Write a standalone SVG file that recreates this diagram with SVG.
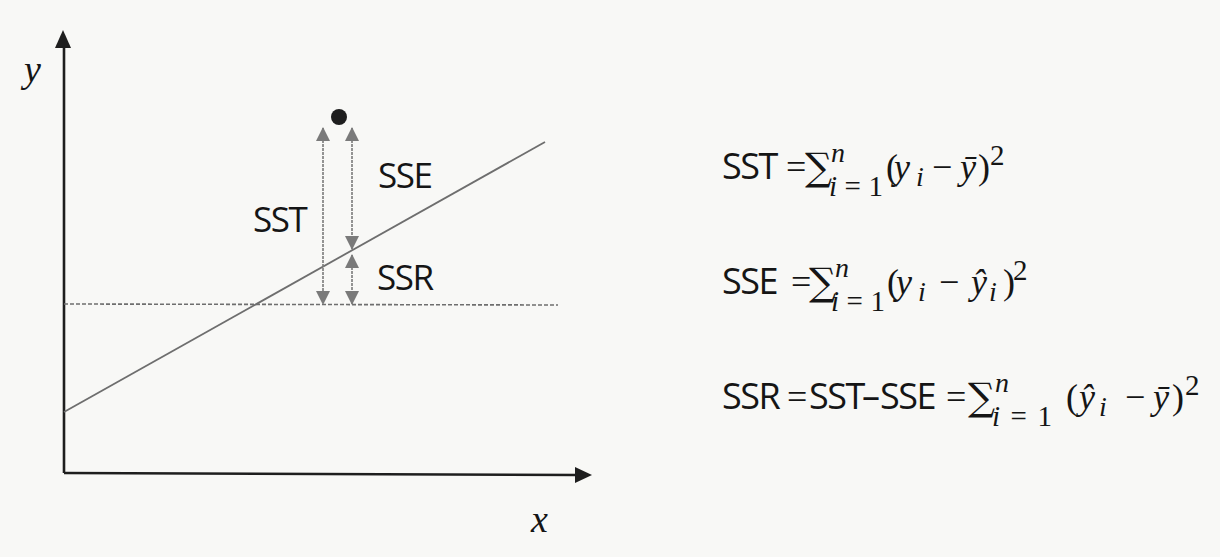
<svg xmlns="http://www.w3.org/2000/svg" width="1220" height="557" viewBox="0 0 1220 557">
<style>
.lbl{font-family:"Open Sans","Liberation Sans",sans-serif;font-size:35px;fill:#151515;letter-spacing:-1.5px;font-weight:500}
.f{font-family:"Open Sans","Liberation Sans",sans-serif;font-size:36px;fill:#151515;letter-spacing:-1.5px;font-weight:500}
.m{font-family:"Liberation Serif","DejaVu Serif",serif;font-size:36px;fill:#151515;font-style:italic}
.mu{font-family:"Liberation Serif","DejaVu Serif",serif;font-size:36px;fill:#151515}
.s{font-family:"Liberation Serif","DejaVu Serif",serif;font-size:29px;fill:#151515}
.si{font-family:"Liberation Serif","DejaVu Serif",serif;font-size:28px;fill:#151515;font-style:italic}
.sig{font-family:"DejaVu Serif",serif;font-size:38px;fill:#151515}
.ax{font-family:"Liberation Serif","DejaVu Serif",serif;font-size:38px;fill:#151515;font-style:italic}
.meas{stroke:#7a7a7a;stroke-width:1.6;stroke-dasharray:3 1;fill:none}
</style>
<defs>
<marker id="ah" viewBox="0 0 14 14" refX="13" refY="7" markerWidth="14" markerHeight="14" markerUnits="userSpaceOnUse" orient="auto-start-reverse">
<path d="M0,0 L14,7 L0,14 Z" fill="#7a7a7a"/>
</marker>
</defs>
<rect width="1220" height="557" fill="#f8f8f6"/>
<g id="axes">
<line x1="64" y1="45" x2="64" y2="473" stroke="#1e1e1e" stroke-width="2.6"/>
<polygon points="63,30 55,48 71,48" fill="#1e1e1e"/>
<line x1="64" y1="473" x2="578" y2="475" stroke="#1e1e1e" stroke-width="2.6"/>
<polygon points="592,475 575,467 575,483" fill="#1e1e1e"/>
<text class="ax" x="24" y="82">y</text>
<text class="ax" x="531" y="532">x</text>
</g>
<g id="regression-line">
<line x1="64" y1="412" x2="545" y2="142" stroke="#6e6e6e" stroke-width="1.8"/>
</g>
<g id="mean-line">
<line x1="64" y1="304" x2="558" y2="305" stroke="#6e6e6e" stroke-width="1.6" stroke-dasharray="4 2"/>
</g>
<g id="point">
<circle cx="339" cy="117" r="8" fill="#1e1e1e"/>
</g>
<g id="connectors">
<line class="meas" x1="323" y1="128" x2="323" y2="304" marker-start="url(#ah)" marker-end="url(#ah)"/>
<line class="meas" x1="352" y1="128" x2="352" y2="249" marker-start="url(#ah)" marker-end="url(#ah)"/>
<line class="meas" x1="352" y1="255" x2="352" y2="304" marker-start="url(#ah)" marker-end="url(#ah)"/>
</g>
<g id="label-sst"><text class="lbl" x="253" y="232">SST</text></g>
<g id="label-sse"><text class="lbl" x="378" y="188">SSE</text></g>
<g id="label-ssr"><text class="lbl" x="377" y="290">SSR</text></g>
<g id="formula-sst">
<text class="f" x="722" y="179">SST</text>
<text class="mu" x="786" y="179">=</text>
<text class="sig" x="805" y="180">∑</text>
<text class="si" x="831" y="162">n</text>
<text class="s" x="829" y="196" textLength="54" lengthAdjust="spacing"><tspan font-style="italic">i</tspan>=1</text>
<text class="mu" x="886" y="179">(</text>
<text class="m" x="894" y="179">y</text>
<text class="si" x="916" y="186">i</text>
<text class="mu" x="932" y="179">−</text>
<text class="m" x="960" y="179">ȳ</text>
<text class="mu" x="978" y="179">)</text>
<text class="s" x="990" y="165">2</text>
</g>
<g id="formula-sse">
<text class="f" x="722" y="294">SSE</text>
<text class="mu" x="791" y="294">=</text>
<text class="sig" x="809" y="295">∑</text>
<text class="si" x="835" y="277">n</text>
<text class="s" x="831" y="311" textLength="54" lengthAdjust="spacing"><tspan font-style="italic">i</tspan>=1</text>
<text class="mu" x="887" y="294">(</text>
<text class="m" x="896" y="294">y</text>
<text class="si" x="918" y="301">i</text>
<text class="mu" x="939" y="294">−</text>
<text class="m" x="971" y="294">ŷ</text>
<text class="si" x="989" y="301">i</text>
<text class="mu" x="1003" y="294">)</text>
<text class="s" x="1013" y="280">2</text>
</g>
<g id="formula-ssr">
<text class="f" x="722" y="409">SSR</text>
<text class="mu" x="787" y="409">=</text>
<text class="f" x="809" y="409">SST</text>
<text class="f" x="862" y="409">–</text>
<text class="f" x="880" y="409">SSE</text>
<text class="mu" x="946" y="409">=</text>
<text class="sig" x="968" y="410">∑</text>
<text class="si" x="995" y="392">n</text>
<text class="s" x="992" y="426" textLength="60" lengthAdjust="spacing"><tspan font-style="italic">i</tspan>=1</text>
<text class="mu" x="1066" y="409">(</text>
<text class="m" x="1079" y="409">ŷ</text>
<text class="si" x="1099" y="416">i</text>
<text class="mu" x="1125" y="409">−</text>
<text class="m" x="1153" y="409">ȳ</text>
<text class="mu" x="1172" y="409">)</text>
<text class="s" x="1185" y="395">2</text>
</g>
</svg>
